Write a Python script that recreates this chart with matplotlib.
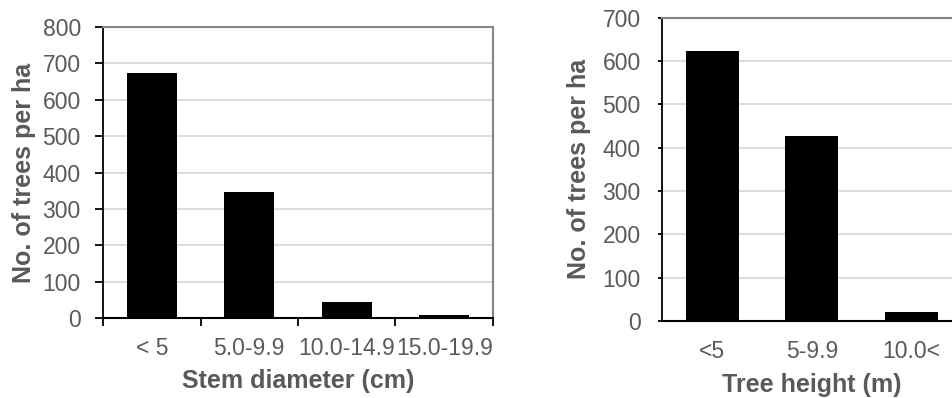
import matplotlib.pyplot as plt
import numpy as np

plt.rcParams['font.family'] = ['Liberation Sans', 'DejaVu Sans']

# stem diameter classes (cm)
diam_labels = ['< 5', '5.0-9.9', '10.0-14.9', '15.0-19.9']
diam_trees = [674, 346, 43, 7]

# tree height classes (m)
height_labels = ['<5', '5-9.9', '10.0<']
height_trees = [624, 427, 20]

txt = '#595959'
grid = '#d9d9d9'
frame = '#858585'

fig = plt.figure(figsize=(9.53, 3.98), dpi=100)


def style(ax, ymax, step):
    ax.set_ylim(0, ymax)
    ax.set_yticks(np.arange(0, ymax + 1, step))
    ax.yaxis.grid(True, color=grid, linewidth=1.3)
    ax.set_axisbelow(True)
    ax.spines['left'].set_color('black')
    ax.spines['bottom'].set_color('black')
    ax.spines['left'].set_linewidth(1.3)
    ax.spines['bottom'].set_linewidth(1.5)
    for s in ['top', 'right']:
        ax.spines[s].set_color(frame)
        ax.spines[s].set_linewidth(1.5)
    ax.tick_params(labelsize=16.5, labelcolor=txt, color='black')


# left: stem diameter
ax1 = fig.add_axes([0.1081, 0.201, 0.4092, 0.731])
x1 = np.arange(len(diam_labels))
ax1.bar(x1, diam_trees, width=0.51, color='black', zorder=3)
ax1.set_xlim(-0.5, len(diam_labels) - 0.5)
style(ax1, 800, 100)
ax1.set_xticks(x1)
ax1.set_xticklabels(diam_labels)
ax1.set_xticks(np.arange(-0.5, len(diam_labels)), minor=True)
ax1.tick_params(axis='x', which='major', length=0, pad=14)
ax1.tick_params(axis='x', which='minor', length=6, width=1.3, direction='out')
ax1.tick_params(axis='y', length=6, width=1.3, pad=10)
ax1.set_xlabel('Stem diameter (cm)', fontsize=18, fontweight='bold', color=txt, labelpad=6)
ax1.set_ylabel('No. of trees per ha', fontsize=18, fontweight='bold', color=txt, labelpad=4.5)

# right: tree height (cut off by the image edge)
ax2 = fig.add_axes([0.695, 0.1935, 0.3138, 0.762])
x2 = np.arange(len(height_labels))
ax2.bar(x2, height_trees, width=0.53, color='black', zorder=3)
ax2.set_xlim(-0.5, len(height_labels) - 0.5)
style(ax2, 700, 100)
ax2.set_xticks(x2)
ax2.set_xticklabels(height_labels)
ax2.tick_params(axis='x', length=0, pad=13.5)
ax2.tick_params(axis='y', length=3, width=1.3, pad=12.5)
ax2.set_xlabel('Tree height (m)', fontsize=18, fontweight='bold', color=txt, labelpad=7.5)
ax2.set_ylabel('No. of trees per ha', fontsize=18, fontweight='bold', color=txt, labelpad=8.5)

fig.savefig('out.png', dpi=100)
